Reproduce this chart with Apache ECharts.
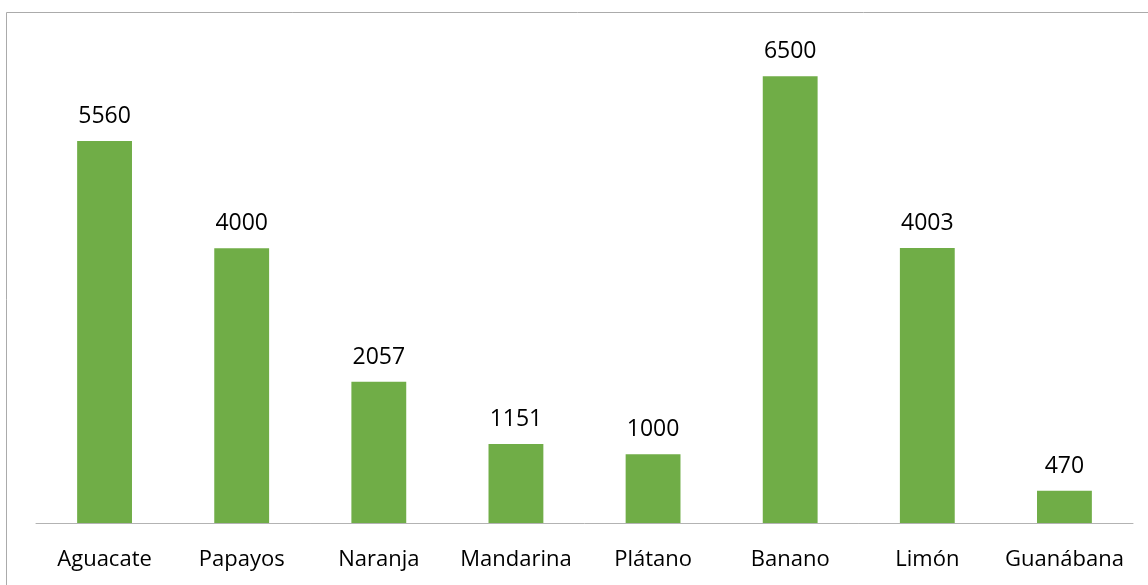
<!DOCTYPE html>
<html><head><meta charset="utf-8">
<script src="https://cdn.jsdelivr.net/npm/echarts@6/dist/echarts.min.js"></script>
<style>html,body{margin:0;padding:0;background:#fff}#c{width:1148px;height:585px}</style>
</head><body><div id="c"></div>
<script>
var categories = ['Aguacate','Papayos','Naranja','Mandarina','Plátano','Banano','Limón','Guanábana'];
var values = [5560,4000,2057,1151,1000,6500,4003,470];

var chart = echarts.init(document.getElementById('c'));
chart.setOption({
  animation:false,
  graphic:[{type:'rect',shape:{x:6.5,y:12.5,width:1160,height:600},style:{fill:'none',stroke:'#ababab',lineWidth:1},silent:true,z:-1}],
  grid:{left:36,right:15,top:42,bottom:62},
  xAxis:{type:'category',data:categories,
    axisLine:{lineStyle:{color:'#b3b3b3',width:1}},
    axisTick:{show:false},
    axisLabel:{interval:0,color:'#000',fontSize:22,fontFamily:'Open Sans',margin:26}},
  yAxis:{type:'value',min:0,max:7000,show:false,splitLine:{show:false}},
  series:[{type:'bar',data:values,barWidth:'40%',
    itemStyle:{color:'#70AD47'},
    label:{show:true,position:'top',distance:13,color:'#000',fontSize:23,fontFamily:'Open Sans'}}]
});
</script></body></html>
